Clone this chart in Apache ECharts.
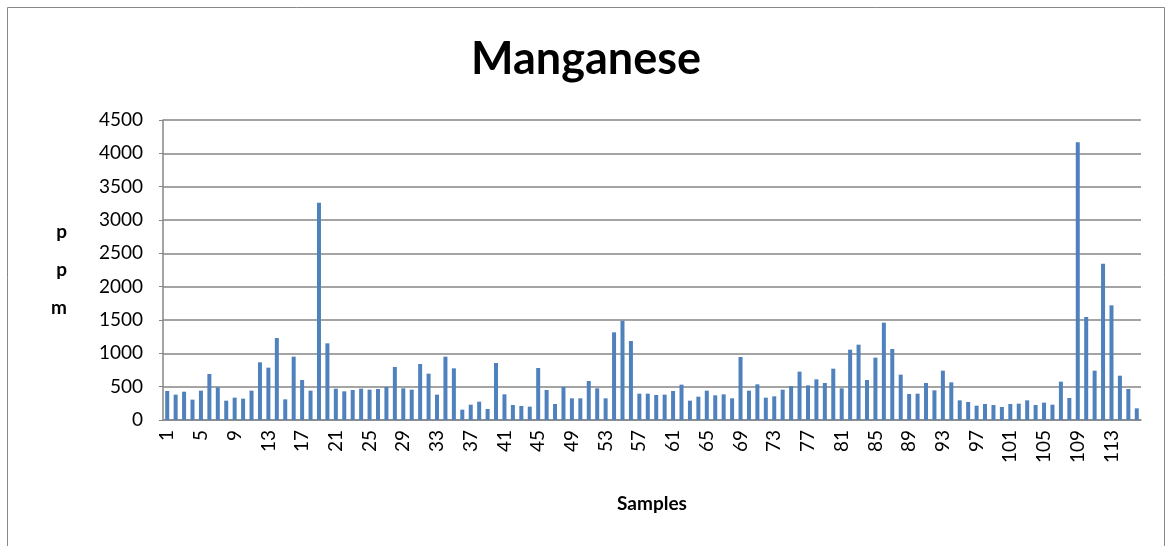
<!DOCTYPE html>
<html>
<head>
<meta charset="utf-8">
<script src="https://cdn.jsdelivr.net/npm/echarts@6/dist/echarts.min.js"></script>
<style>
  html, body { margin: 0; padding: 0; background: #fff; }
  #main { width: 1172px; height: 546px; }
</style>
</head>
<body>
<div id="main"></div>
<script>
// values (ppm), samples 1..116
var samples = [];
for (var i = 1; i <= 116; i++) samples.push(String(i));

var manganese = [
  435, 380, 425, 305, 440, 690, 490, 290, 335, 320,
  440, 865, 785, 1230, 310, 950, 600, 440, 3260, 1150,
  470, 430, 450, 470, 455, 465, 495, 795, 475, 455,
  840, 695, 380, 950, 775, 155, 230, 275, 165, 855,
  385, 225, 210, 200, 780, 450, 240, 495, 325, 325,
  585, 475, 325, 1315, 1490, 1185, 395, 395, 375, 380,
  435, 530, 290, 350, 440, 370, 385, 325, 945, 440,
  535, 335, 355, 455, 510, 725, 520, 610, 555, 770,
  475, 1055, 1130, 600, 935, 1460, 1065, 680, 390, 395,
  555, 445, 740, 565, 295, 270, 215, 240, 225, 195,
  240, 245, 295, 225, 260, 230, 575, 330, 4165, 1545,
  740, 2345, 1720, 665, 465, 175
];

var chart = echarts.init(document.getElementById('main'));
var font = 'Lato, "Open Sans", sans-serif';

var option = {
  animation: false,
  title: {
    text: 'Manganese',
    left: 'center',
    top: 32,
    textStyle: { fontFamily: font, fontSize: 45, fontWeight: 'bold', color: '#000' }
  },
  // outer border of the chart area
  graphic: [{
    type: 'rect',
    shape: { x: 7.5, y: 7.5, width: 1157, height: 560 },
    style: { fill: 'none', stroke: '#888', lineWidth: 1 },
    silent: true
  }],
  grid: { left: 163, right: 31, top: 120, bottom: 126 },
  xAxis: {
    type: 'category',
    data: samples,
    name: 'Samples',
    nameLocation: 'middle',
    nameGap: 74,
    nameTextStyle: { fontFamily: font, fontSize: 19, fontWeight: 'bold', color: '#000' },
    axisLine: { lineStyle: { color: '#868686', width: 1.5 } },
    axisTick: { interval: 0, length: 6, lineStyle: { color: '#868686' } },
    axisLabel: {
      interval: 3,
      rotate: 90,
      margin: 10,
      fontFamily: font,
      fontSize: 19,
      color: '#000'
    }
  },
  yAxis: {
    type: 'value',
    min: 0,
    max: 4500,
    interval: 500,
    name: 'p\np\nm',
    nameLocation: 'middle',
    nameRotate: 0,
    nameGap: 96,
    nameTextStyle: { fontFamily: font, fontSize: 19, fontWeight: 'bold', color: '#000', lineHeight: 38, padding: [18, 0, 0, 0] },
    axisLine: { show: true, lineStyle: { color: '#868686', width: 1.5 } },
    axisTick: { show: true, length: 4, lineStyle: { color: '#868686' } },
    axisLabel: {
      fontFamily: font, fontSize: 19, color: '#000', margin: 20,
      formatter: function (v) { return String(v); }
    },
    splitLine: { lineStyle: { color: '#868686', width: 1.5 } }
  },
  series: [{
    name: 'Manganese',
    type: 'bar',
    data: manganese,
    barWidth: 4,
    itemStyle: { color: '#4F81BD' }
  }]
};

chart.setOption(option);
</script>
</body>
</html>
